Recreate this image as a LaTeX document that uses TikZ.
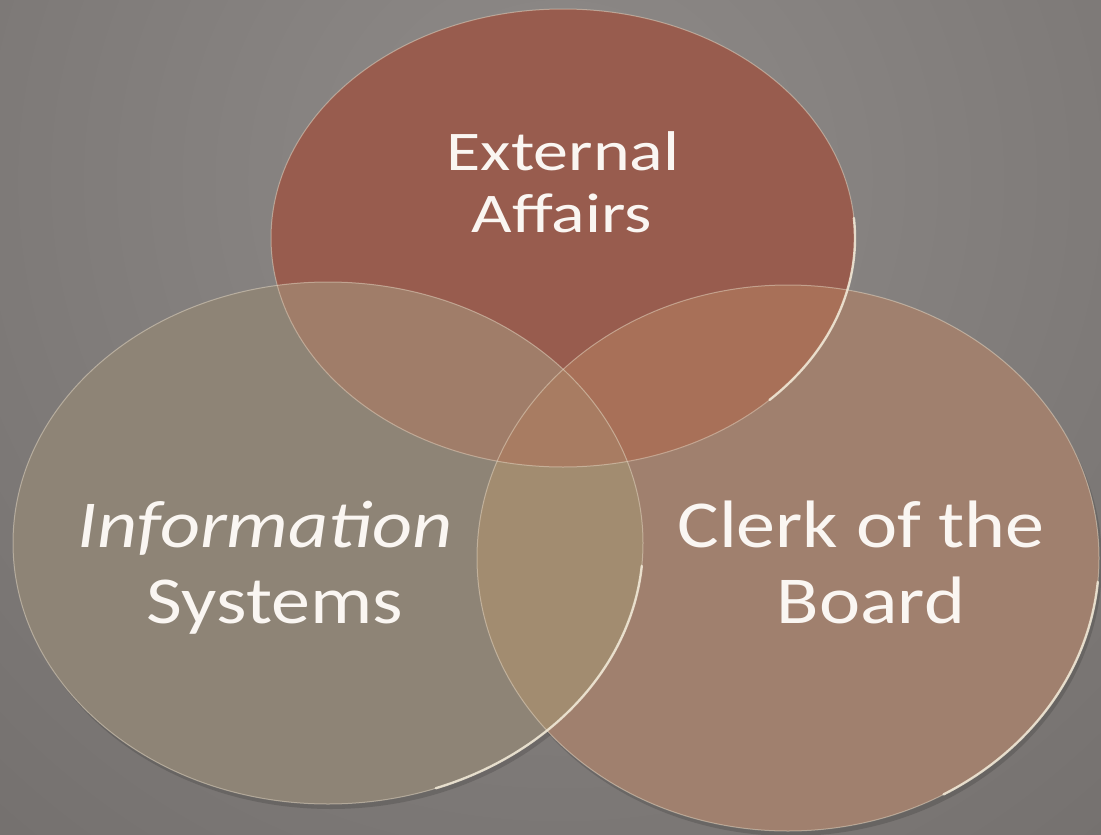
\documentclass[tikz,border=0pt]{standalone}
\usepackage{fontspec}
\setmainfont{Carlito}
\definecolor{bgIn}{HTML}{8F8B89}
\definecolor{bgOut}{HTML}{6C6866}
\definecolor{cT}{HTML}{985C4E}
\definecolor{cL}{HTML}{8E8476}
\definecolor{cR}{HTML}{A0806E}
\definecolor{cTL}{HTML}{A07D69}
\definecolor{cTR}{HTML}{A87058}
\definecolor{cLR}{HTML}{A28C70}
\definecolor{cTLR}{HTML}{A87C62}
\definecolor{rimc}{HTML}{E6DAC6}
\definecolor{glintc}{HTML}{F2EAD8}
\definecolor{labeltext}{HTML}{FAF6F2}
\newcommand\pathT{(563,238) ellipse [x radius=292pt, y radius=229pt]}
\newcommand\pathL{(328,543) ellipse [x radius=315pt, y radius=261pt]}
\newcommand\pathR{(788,558) ellipse [x radius=311pt, y radius=273pt]}
\begin{document}
\begin{tikzpicture}[x=1pt,y=-1pt,
  rim/.style={draw=rimc, line width=1pt, draw opacity=0.5},
  glint/.style={draw=glintc, line width=2.4pt, draw opacity=0.85, line cap=round},
  shadowfill/.style={fill=black, fill opacity=0.14},
  biglbl/.style={text=labeltext, inner sep=0pt, anchor=base, font=\fontsize{78}{78}\selectfont},
  toplbl/.style={text=labeltext, inner sep=0pt, anchor=base, font=\fontsize{70}{70}\selectfont}]
\useasboundingbox (0,0) rectangle (1101,835);
% background
\begin{scope}
  \clip (0,0) rectangle (1101,835);
  \fill[bgOut] (0,0) rectangle (1101,835);
  \shade[inner color=bgIn, outer color=bgOut] (560,180) circle (1150pt);
\end{scope}
% soft shadows
\fill[shadowfill] (331,548) ellipse [x radius=315pt, y radius=261pt];
\fill[shadowfill] (791,563) ellipse [x radius=311pt, y radius=273pt];
% circle fills
\fill[cL] \pathL;
\fill[cR] \pathR;
\fill[cT] \pathT;
% overlaps
\begin{scope}\clip \pathT; \fill[cTL] \pathL; \end{scope}
\begin{scope}\clip \pathT; \fill[cTR] \pathR; \end{scope}
\begin{scope}\clip \pathL; \fill[cLR] \pathR; \end{scope}
\begin{scope}\clip \pathT; \clip \pathL; \fill[cTLR] \pathR; \end{scope}
% rims
\path[rim] \pathL;
\path[rim] \pathR;
\path[rim] \pathT;
\draw[glint] (328,543) ++(-70:315pt and 261pt) arc[start angle=-70, end angle=-5, x radius=315pt, y radius=261pt];
\draw[glint] (788,558) ++(-60:311pt and 273pt) arc[start angle=-60, end angle=-5, x radius=311pt, y radius=273pt];
\draw[glint] (563,238) ++(-45:292pt and 229pt) arc[start angle=-45, end angle=5, x radius=292pt, y radius=229pt];
% labels
\node[toplbl] (ea1) at (563,170) {\scalebox{1}[0.8]{External}};
\node[toplbl] (ea2) at (562,232) {\scalebox{1}[0.8]{Affairs}};
\node[biglbl] (is1) at (265,547) {\scalebox{1}[0.86]{\itshape Information}};
\node[biglbl] (is2) at (275,623) {\scalebox{1}[0.86]{Systems}};
\node[biglbl] (cb1) at (861,547) {\scalebox{1}[0.86]{Clerk of the}};
\node[biglbl] (cb2) at (871,623) {\scalebox{1}[0.86]{Board}};
\end{tikzpicture}
\end{document}
